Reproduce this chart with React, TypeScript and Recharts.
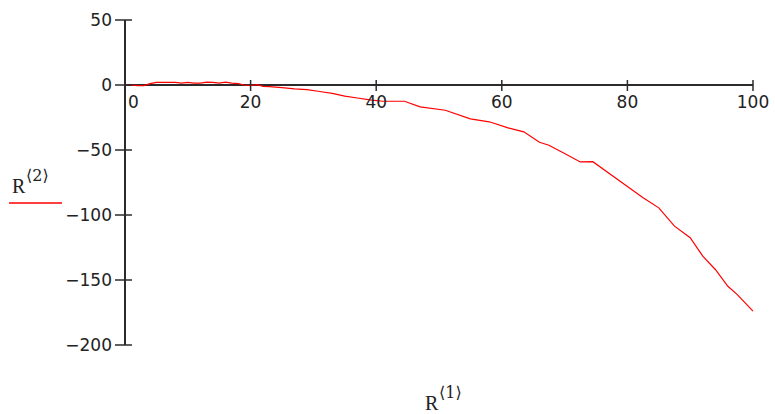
import { LineChart, Line, XAxis, YAxis, ReferenceLine, ReferenceDot } from "recharts";

const xValues = [
  0, 1, 2, 3, 4, 5, 6, 8, 9, 10, 11, 12, 13, 14, 15, 16, 17, 18, 19, 20, 21, 22, 23, 25, 27, 29, 31, 33, 35, 37, 39,
  41, 44.5, 47, 51, 55, 58, 61, 63.5, 66, 67.5, 70, 72.5, 74.5, 80.5, 82.5, 85, 87.5, 90, 92, 94, 96, 97.5, 100,
];
const yValues = [
  0, 0, -0.5, -0.5, 1, 2, 2, 2, 1.5, 2, 1.5, 1.5, 2.2, 2, 1.5, 2.2, 1.5, 1, 0, -0.5, 0.3, -1, -1.3, -2, -3, -3.5, -5,
  -6.5, -8.5, -10, -11.5, -12.5, -12.5, -16.8, -19.4, -26, -28.3, -33, -36, -44, -46.3, -52.7, -59.2, -59, -79.8,
  -86.8, -94.5, -108.6, -117.5, -131.7, -141.9, -154.8, -161.2, -174,
];
const xTicks = [0, 20, 40, 60, 80, 100];
const yTicks = [50, 0, -50, -100, -150, -200];

const data = xValues.map((x, i) => ({ x, y: yValues[i] }));

const AXIS = "#2b2b2b";
const TICK_FONT = "'DejaVu Sans', Verdana, sans-serif";
const Y_TICK_SIZE = 6;
const Y_TICK_MARGIN = 8;

const fmt = (v: number) => (v < 0 ? "\u2212" + Math.abs(v) : String(v));

function YTick(props: any) {
  const { x, y, payload } = props;
  const ax = x + Y_TICK_SIZE + Y_TICK_MARGIN;
  return (
    <g>
      <line x1={ax - 10} x2={ax + 7} y1={y} y2={y} stroke={AXIS} strokeWidth={1.5} />
      <text x={ax - 13} y={y} dy={6} textAnchor="end" fontFamily={TICK_FONT} fontSize={17} fill="#222">
        {fmt(payload.value)}
      </text>
    </g>
  );
}

function XTickMark(props: any, value: number) {
  const { cx, cy } = props;
  return (
    <g>
      {value !== 0 && <line x1={cx} x2={cx} y1={cy - 5} y2={cy + 6} stroke={AXIS} strokeWidth={1.5} />}
      <text
        x={value === 0 ? cx + 3 : cx}
        y={cy + 23}
        textAnchor={value === 0 ? "start" : "middle"}
        fontFamily={TICK_FONT}
        fontSize={17}
        fill="#222"
      >
        {fmt(value)}
      </text>
    </g>
  );
}

export default function App() {
  return (
    <div style={{ position: "absolute", left: 0, top: 0, width: 775, height: 414, background: "#fff" }}>
      <LineChart width={775} height={414} data={data} margin={{ top: 20, right: 22, bottom: 69, left: 0 }}>
        <XAxis dataKey="x" type="number" domain={[0, 100]} ticks={xTicks} hide />
        <YAxis
          type="number"
          domain={[-200, 50]}
          ticks={yTicks}
          width={125}
          tickSize={Y_TICK_SIZE}
          tickMargin={Y_TICK_MARGIN}
          tickLine={false}
          axisLine={{ stroke: AXIS, strokeWidth: 2 }}
          tick={YTick}
          interval={0}
        />
        <ReferenceLine y={0} stroke={AXIS} strokeWidth={2} ifOverflow="visible" />
        {xTicks.map((t) => (
          <ReferenceDot
            key={t}
            x={t}
            y={0}
            r={0}
            ifOverflow="visible"
            shape={(p: any) => XTickMark(p, t)}
          />
        ))}
        <Line
          type="linear"
          dataKey="y"
          stroke="#ff0000"
          strokeWidth={1.2}
          dot={false}
          isAnimationActive={false}
        />
      </LineChart>
      <svg
        width={775}
        height={414}
        style={{ position: "absolute", left: 0, top: 0, pointerEvents: "none" }}
      >
        <text x={12} y={193} fontFamily="'Liberation Serif', 'Times New Roman', serif" fontSize={20} fill="#222">
          R
        </text>
        <text x={26} y={181} fontFamily="'DejaVu Serif', 'Liberation Serif', serif" fontSize={16} fill="#222">
          {"\u27E82\u27E9"}
        </text>
        <line x1={9} x2={62} y1={203} y2={203} stroke="#ff0000" strokeWidth={1.5} />
        <text x={425} y={410} fontFamily="'Liberation Serif', 'Times New Roman', serif" fontSize={20} fill="#222">
          R
        </text>
        <text x={439} y={398} fontFamily="'DejaVu Serif', 'Liberation Serif', serif" fontSize={16} fill="#222">
          {"\u27E81\u27E9"}
        </text>
      </svg>
    </div>
  );
}
